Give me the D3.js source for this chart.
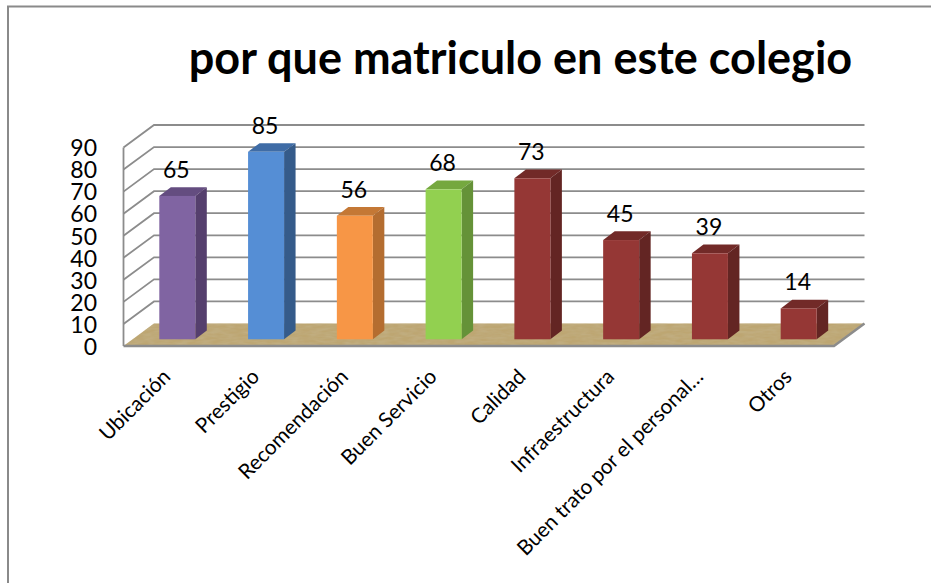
<!DOCTYPE html>
<html><head><meta charset="utf-8">
<script src="https://cdnjs.cloudflare.com/ajax/libs/d3/7.8.5/d3.min.js"></script>
<style>html,body{margin:0;padding:0;background:#fff}svg{display:block}text{font-family:Lato,sans-serif;fill:#000}</style>
</head><body><svg id="c" width="931" height="583"></svg>
<script>
const categories=["Ubicación","Prestigio","Recomendación","Buen Servicio","Calidad","Infraestructura","Buen trato por el personal…","Otros"];
const values=[65,85,56,68,73,45,39,14];
const frontColors=["#8064A2","#558ED5","#F79646","#92D050","#953735","#953735","#953735","#953735"];
const sideColors=["#553F6D","#355B8A","#B46D30","#659238","#632523","#632523","#632523","#632523"];
const topColors=["#644D80","#3F6CA6","#C47835","#75A83F","#722A28","#722A28","#722A28","#722A28"];
const yTicks=[0,10,20,30,40,50,60,70,80,90];
const titleText="por que matriculo en este colegio";

const svg=d3.select("#c");
const defs=svg.append("defs");
const f=defs.append("filter").attr("id","wood").attr("x",0).attr("y",0).attr("width",1).attr("height",1);
f.append("feTurbulence").attr("type","fractalNoise").attr("baseFrequency","0.09 0.35").attr("numOctaves",2).attr("seed",4).attr("result","n");
f.append("feColorMatrix").attr("in","n").attr("type","matrix").attr("values","0 0 0 0 0.55  0 0 0 0 0.45  0 0 0 0 0.25  1.2 0 0 0 -0.35").attr("result","t");
f.append("feComposite").attr("in","t").attr("in2","SourceGraphic").attr("operator","in").attr("result","c");
f.append("feMerge").selectAll("feMergeNode").data(["SourceGraphic","c"]).join("feMergeNode").attr("in",d=>d);

// frame
svg.append("path").attr("d","M8 583V6.5H931").attr("fill","none").attr("stroke","#8a8a8a").attr("stroke-width",2);

const y=d3.scaleLinear().domain([0,90]).range([346,147.5]);
const x=d3.scalePoint().domain(categories).range([177.3,798.7]);
const left=123.5,right=834,dx=30.5,dy=22.5,barW=36,barLift=6.7,depX=11.5,depY=8.7;

// floor
svg.append("path").attr("d",`M${left} ${y(0)}L${left+dx} ${y(0)-dy}H${right+dx-0}L${right} ${y(0)}Z`).attr("fill","#BDA672").attr("filter","url(#wood)");

// gridlines
svg.append("g").selectAll("path").data(yTicks).join("path")
 .attr("d",d=>d===0?`M${left} ${y(0)}H${right}L${right+dx} ${y(0)-dy}`:`M${left} ${y(d)}L${left+dx} ${y(d)-dy}H${right+dx}`)
 .attr("fill","none").attr("stroke","#8c8c8c").attr("stroke-width",d=>d===0?2.4:1.8);
svg.append("path").attr("d",`M${left} ${y(0)}V${y(90)}`).attr("stroke","#8c8c8c").attr("stroke-width",1.8);

// bars
const bars=svg.append("g").selectAll("g").data(categories).join("g");
const tp=(i)=>y(values[i])-barLift;
const bot=y(0)-barLift;
bars.append("path").attr("fill",(d,i)=>topColors[i])
 .attr("d",(d,i)=>{const a=x(d)-barW/2;return `M${a} ${tp(i)}l${depX} ${-depY}h${barW}l${-depX} ${depY}Z`});
bars.append("path").attr("fill",(d,i)=>sideColors[i])
 .attr("d",(d,i)=>{const b=x(d)+barW/2;return `M${b} ${tp(i)}l${depX} ${-depY}V${bot-depY}l${-depX} ${depY}Z`});
bars.append("rect").attr("fill",(d,i)=>frontColors[i])
 .attr("x",d=>x(d)-barW/2).attr("width",barW).attr("y",(d,i)=>tp(i)).attr("height",(d,i)=>bot-tp(i));
bars.append("text").attr("text-anchor","middle").attr("font-size",23)
 .attr("x",d=>x(d)-1).attr("y",(d,i)=>tp(i)-18).text((d,i)=>values[i]);

// axes
const ga=svg.append("g").attr("transform","translate(97,0)")
 .call(d3.axisLeft(y).tickValues(yTicks).tickSize(0).tickPadding(0));
ga.select(".domain").remove();
ga.selectAll("text").attr("font-size",23).attr("dy","0.36em").style("font-family","Lato,sans-serif").style("fill","#000");

const gx=svg.append("g").attr("transform","translate(-6,378)")
 .call(d3.axisBottom(x).tickSize(0).tickPadding(0));
gx.select(".domain").remove();
gx.selectAll("text").attr("font-size",20.8).attr("text-anchor","end").attr("dy",0).attr("y",0).attr("transform","rotate(-45)").style("font-family","Lato,sans-serif").style("fill","#000");

// title
svg.append("text").attr("x",520.5).attr("y",74).attr("text-anchor","middle").attr("font-size",45).attr("font-weight",700).text(titleText);
</script></body></html>
